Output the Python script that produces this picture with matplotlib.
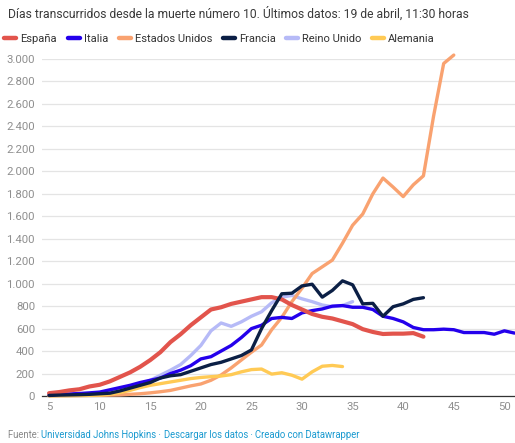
import matplotlib
matplotlib.use("Agg")
import matplotlib.pyplot as plt
from matplotlib.ticker import FuncFormatter, MultipleLocator
from matplotlib.lines import Line2D

plt.rcParams['font.family'] = ['Roboto', 'DejaVu Sans']

title = "Días transcurridos desde la muerte número 10. Últimos datos: 19 de abril, 11:30 horas"
start_day = 5

espana = [25, 35, 50, 60, 85, 100, 130, 170, 210, 260, 320, 390, 480, 550, 630, 700, 770, 790,
          820, 840, 860, 880, 880, 860, 810, 770, 730, 705, 690, 665, 640, 595, 570, 552, 555,
          555, 560, 528]
italia = [10, 15, 18, 22, 28, 35, 55, 75, 95, 120, 140, 160, 200, 230, 270, 330, 350, 400, 450,
          520, 600, 630, 690, 700, 690, 740, 760, 775, 800, 805, 790, 790, 770, 710, 690, 660,
          610, 590, 590, 595, 590, 565, 565, 565, 550, 580, 560]
eeuu = [2, 3, 3, 4, 5, 6, 8, 10, 15, 20, 28, 38, 50, 70, 90, 107, 140, 187, 250, 320, 390, 454,
        590, 700, 840, 960, 1090, 1150, 1210, 1360, 1520, 1620, 1800, 1940, 1860, 1775, 1880,
        1960, 2490, 2960, 3035]
francia = [5, 8, 10, 12, 15, 20, 25, 45, 70, 95, 120, 160, 180, 190, 220, 250, 280, 300, 330,
           360, 410, 600, 760, 910, 915, 980, 995, 880, 940, 1025, 990, 820, 825, 710, 795, 820,
           860, 875]
reino_unido = [5, 8, 10, 12, 15, 20, 30, 50, 75, 100, 140, 185, 230, 280, 360, 450, 580, 650,
               620, 660, 710, 750, 830, 880, 895, 865, 840, 810, 795, 805, 840]
alemania = [2, 3, 4, 5, 6, 8, 15, 30, 50, 75, 95, 110, 125, 140, 155, 165, 172, 178, 190, 215,
            235, 240, 195, 207, 185, 150, 215, 265, 272, 262]

series = [
    ("España", espana, "#e2544c", 3.0),
    ("Italia", italia, "#2400ec", 2.4),
    ("Estados Unidos", eeuu, "#f9a270", 2.4),
    ("Francia", francia, "#0b1f45", 2.4),
    ("Reino Unido", reino_unido, "#b6baf7", 2.4),
    ("Alemania", alemania, "#ffca55", 2.4),
]
zorders = {"España": 6, "Italia": 5, "Estados Unidos": 3, "Francia": 7, "Reino Unido": 2, "Alemania": 4}

fig = plt.figure(figsize=(5.15, 4.43), dpi=100)
ax = fig.add_axes([42/515, 47/443, 473/515, 337/443])

handles = []
for name, vals, col, lw in series:
    days = list(range(start_day, start_day + len(vals)))
    ax.plot(days, vals, color=col, lw=lw, solid_joinstyle='round', solid_capstyle='round',
            zorder=zorders[name], clip_on=False)
    handles.append(Line2D([], [], color=col, lw=3.2, solid_capstyle='round'))

ax.set_xlim(4.3, 51.05)
ax.set_ylim(0, 3000)
ax.yaxis.set_major_locator(MultipleLocator(200))
ax.xaxis.set_major_locator(MultipleLocator(5))
ax.yaxis.set_major_formatter(FuncFormatter(lambda v, p: f"{int(v):,}".replace(",", ".")))
for s in ["top", "right", "left"]:
    ax.spines[s].set_visible(False)
ax.spines["bottom"].set_color("#333333")
ax.spines["bottom"].set_linewidth(0.9)
ax.grid(axis='y', color="#e4e4e4", lw=0.9, zorder=0)
ax.set_axisbelow(True)
ax.tick_params(axis='y', length=0, pad=5, labelsize=8.2, labelcolor="#8f8f8f")
ax.tick_params(axis='x', length=0, pad=4, labelsize=8.2, labelcolor="#8f8f8f")

fig.text(8/515, 1 - 14/443, title, fontsize=8.7, color="#3a3a3a", va='center', ha='left')

leg = fig.legend(handles, [s[0] for s in series], loc='center left',
                 bbox_to_anchor=(2/515, 1 - 39/443), ncol=6, frameon=False,
                 fontsize=8.0, handlelength=1.1, handletextpad=0.35, columnspacing=0.95,
                 borderaxespad=0, borderpad=0.2)
for t in leg.get_texts():
    t.set_color("#333333")

# footer
fig.canvas.draw()
r = fig.canvas.get_renderer()
parts = [("Fuente: ", "#888888"), ("Universidad Johns Hopkins", "#1a9ad0"), (" · ", "#1a9ad0"),
         ("Descargar los datos", "#1a9ad0"), (" · ", "#1a9ad0"), ("Creado con Datawrapper", "#1a9ad0")]
xpx = 8
for txt, col in parts:
    t = fig.text(xpx/515, 1 - 435/443, txt, fontsize=6.85, color=col, va='center', ha='left')
    bb = t.get_window_extent(renderer=r)
    xpx += bb.width

fig.savefig("out.png", dpi=100)
